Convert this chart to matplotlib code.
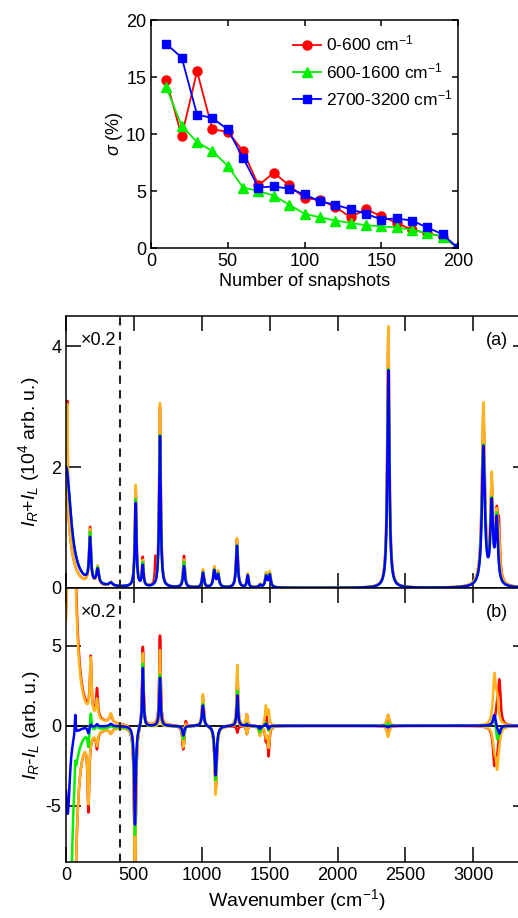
import numpy as np
import matplotlib
matplotlib.use('Agg')
import matplotlib.pyplot as plt

plt.rcParams['font.family'] = ['Liberation Sans', 'DejaVu Sans']
plt.rcParams['mathtext.fontset'] = 'custom'
plt.rcParams['mathtext.rm'] = 'Liberation Sans'
plt.rcParams['mathtext.it'] = 'Liberation Sans:italic'
plt.rcParams['axes.unicode_minus'] = False
plt.rcParams['font.size'] = 13

RED = '#FF0000'
ORANGE = '#FFB41E'
GREEN = '#00F000'
BLUE = '#0000FF'

# ---- convergence panel: sigma vs number of snapshots
snapshots = np.arange(10, 201, 10)
sigma_low = [14.7, 9.8, 15.5, 10.4, 10.2, 8.5, 5.5, 6.6, 5.5, 4.4,
             4.2, 3.6, 2.7, 3.4, 2.8, 2.2, 1.6, 1.3, 1.0, 0.0]
sigma_mid = [14.1, 10.7, 9.3, 8.5, 7.2, 5.3, 5.0, 4.6, 3.8, 3.0,
             2.7, 2.4, 2.2, 2.0, 1.9, 1.8, 1.6, 1.3, 1.0, 0.0]
sigma_ch = [17.9, 16.7, 11.7, 11.4, 10.4, 7.9, 5.3, 5.4, 5.2, 4.7,
            4.1, 3.8, 3.4, 3.0, 2.5, 2.6, 2.4, 1.8, 1.2, 0.0]

# ---- panel (a): I_R + I_L, peak list (cm-1, HWHM, heights per curve)
pk_a_pos = [0, 10, 177, 233, 330, 513, 565, 658, 692, 869, 1009, 1092, 1120,
            1259, 1338, 1430, 1474, 1500, 2374, 3074, 3135, 3172, 3188]
pk_a_wid = [44, 3, 8, 10, 15, 7, 7, 4, 7, 8, 8, 9, 9,
            8, 7, 10, 9, 9, 9, 13, 11, 11, 9]
a_blue = [2.0, 0, 0.72, 0.24, 0.05, 1.38, 0.34, 0, 2.5, 0.35, 0.24, 0.27, 0.2,
          0.69, 0.2, 0.04, 0.18, 0.2, 3.6, 2.3, 1.3, 1.05, 0]
a_green = [2.0, 0, 0.8, 0.26, 0.05, 1.44, 0.38, 0, 2.52, 0.42, 0.25, 0.28, 0.21,
           0.7, 0.2, 0.04, 0.19, 0.21, 3.62, 2.32, 1.32, 1.1, 0]
a_orange = [1.2, 1.9, 0.9, 0.31, 0.07, 1.68, 0.42, 0, 3.05, 0.46, 0.3, 0.33, 0.25,
            0.82, 0.23, 0.05, 0.23, 0.25, 4.33, 3.0, 1.7, 1.0, 0.55]
a_red = [1.2, 1.95, 0.93, 0.3, 0.07, 1.66, 0.47, 0.4, 2.98, 0.52, 0.28, 0.31, 0.24,
         0.8, 0.22, 0.05, 0.22, 0.24, 4.25, 2.85, 1.55, 1.0, 0.75]

# ---- panel (b): I_R - I_L
pk_b_pos = [12, 40, 55, 68, 165, 182, 228, 330, 508, 566, 680, 692, 864, 882,
            1008, 1102, 1262, 1332, 1428, 1472, 1492, 2372, 3155, 3175, 3192]
pk_b_wid = [20, 28, 22, 4, 7, 7, 8, 12, 7, 6, 5, 6, 8, 6,
            8, 9, 6, 6, 9, 7, 7, 10, 12, 11, 10]
b_red_hi = [0, 22, 0, 0, 0, 3.5, 1.8, 0.5, -10, 5.0, 0, 5.6, -1.5, 0.5,
            1.7, -4.0, 3.4, 0.7, -0.5, 1.0, -0.4, 0.6, 0, 1.0, 2.6]
b_red_lo = [-30, 0, -10, 0, -4.5, 0, -1.0, -0.3, -10, 5.0, -0.5, 5.6, -1.5, 0.5,
            1.7, -4.0, -0.4, -0.5, -0.5, -0.8, -1.8, -0.6, -2.2, -1.3, 0]
b_or_hi = [0, 20, 0, 0, 0, 3.5, 1.2, 0.6, -9.5, 4.6, 0, 4.7, -1.4, 0.2,
           2.0, -4.3, 3.8, 0.7, -0.6, 1.2, 0.9, 0.7, 3.0, 1.3, 0]
b_or_lo = [-30, 0, -10, 0, -4.0, 0, -0.8, -0.3, -9.5, 4.6, 0, 1.2, -0.3, 0.2,
           2.0, -4.3, 1.0, -0.5, -0.6, -0.6, -1.3, -0.7, -1.2, -2.3, -0.5]
b_green = [-30, 0, 0, 1.2, -1.0, 1.3, 0.3, 0.1, -6.8, 4.0, 0, 3.2, -0.8, 0,
           1.4, -3.4, 2.2, 0.15, -0.4, 0.25, -0.3, 0.15, 0.9, -1.0, -0.3]
b_blue = [-5.5, 0, 0, 1.3, -0.4, 0.2, 0.15, 0.15, -6.2, 3.7, 0, 3.0, -0.6, 0,
          1.3, -3.1, 1.9, 0.1, -0.2, 0.15, -0.2, -0.1, 0.75, -0.2, -0.5]

wn = np.linspace(0, 3400, 6801)


def spectrum(pos, wid, amp):
    out = np.zeros_like(wn)
    for c, w, h in zip(pos, wid, amp):
        out += h / (1 + ((wn - c) / w) ** 2)
    return out


W, H = 518, 918
fig = plt.figure(figsize=(W / 100, H / 100), dpi=100)


def box(l, t, r, b):
    return [l / W, 1 - b / H, (r - l) / W, (b - t) / H]


# top panel
ax0 = fig.add_axes(box(151, 20, 458, 248))
ax0.plot(snapshots, sigma_low, '-o', color=RED, lw=1.3, ms=6.5, label='0-600 cm$^{-1}$')
ax0.plot(snapshots, sigma_mid, '-^', color=GREEN, lw=1.3, ms=6.5, label='600-1600 cm$^{-1}$')
ax0.plot(snapshots, sigma_ch, '-s', color=BLUE, lw=1.3, ms=6, label='2700-3200 cm$^{-1}$')
ax0.set_xlim(0, 200)
ax0.set_ylim(0, 20)
ax0.set_xticks([0, 50, 100, 150, 200])
ax0.set_yticks([0, 5, 10, 15, 20])
ax0.tick_params(direction='in', top=True, right=True, length=4.5, width=1.1, labelsize=13)
for s in ax0.spines.values():
    s.set_linewidth(1.1)
ax0.set_xlabel('Number of snapshots', fontsize=13, labelpad=2)
ax0.set_ylabel(r'$\sigma$ (%)', fontsize=13, labelpad=1)
ax0.legend(loc='upper left', bbox_to_anchor=(0.43, 0.985), frameon=False,
           fontsize=12.5, handlelength=1.6, handletextpad=0.3, labelspacing=0.42,
           borderaxespad=0.2)

# spectra panels, right edge beyond the figure
right_px = 66 + 3400 * 0.13578
axa = fig.add_axes(box(66, 316, right_px, 588))
axb = fig.add_axes(box(66, 588, right_px, 862))

curves_a = [(a_red, RED), (a_orange, ORANGE), (a_green, GREEN), (a_blue, BLUE)]
for amp, col in curves_a:
    axa.plot(wn, spectrum(pk_a_pos, pk_a_wid, amp), color=col, lw=1.8)

axb.axhline(0, color='black', lw=1.3, zorder=1)
curves_b = [(b_red_hi, RED), (b_red_lo, RED), (b_or_hi, ORANGE), (b_or_lo, ORANGE),
            (b_green, GREEN), (b_blue, BLUE)]
for amp, col in curves_b:
    axb.plot(wn, spectrum(pk_b_pos, pk_b_wid, amp), color=col, lw=1.8, zorder=2)

axa.set_ylim(0, 4.5)
axa.set_yticks([0, 2, 4])
axb.set_ylim(-8.5, 8.6)
axb.set_yticks([-5, 0, 5])
for ax in (axa, axb):
    ax.set_xlim(0, 3400)
    ax.set_xticks(np.arange(0, 3001, 500))
    ax.axvline(400, color='#222222', lw=1.5, ls=(0, (4, 3)), zorder=3)
    ax.tick_params(direction='in', top=True, right=True, length=10.5, width=1.1, labelsize=13)
    for s in ax.spines.values():
        s.set_linewidth(1.1)
    ax.text(0.033, 0.91, '×0.2', transform=ax.transAxes, fontsize=13, va='center')
axa.tick_params(labelbottom=False)
axa.text(0.91, 0.91, '(a)', transform=axa.transAxes, fontsize=13, va='center')
axb.text(0.91, 0.91, '(b)', transform=axb.transAxes, fontsize=13, va='center')

axa.set_ylabel(r'$I_R$+$I_L$ (10$^4$ arb. u.)', fontsize=14)
axb.set_ylabel(r'$I_R$-$I_L$ (arb. u.)', fontsize=14)
axb.set_xlabel('Wavenumber (cm$^{-1}$)', fontsize=14, labelpad=2)
axa.yaxis.set_label_coords(-0.052, 0.5)
axb.yaxis.set_label_coords(-0.052, 0.5)

fig.savefig('out.png', dpi=100)
